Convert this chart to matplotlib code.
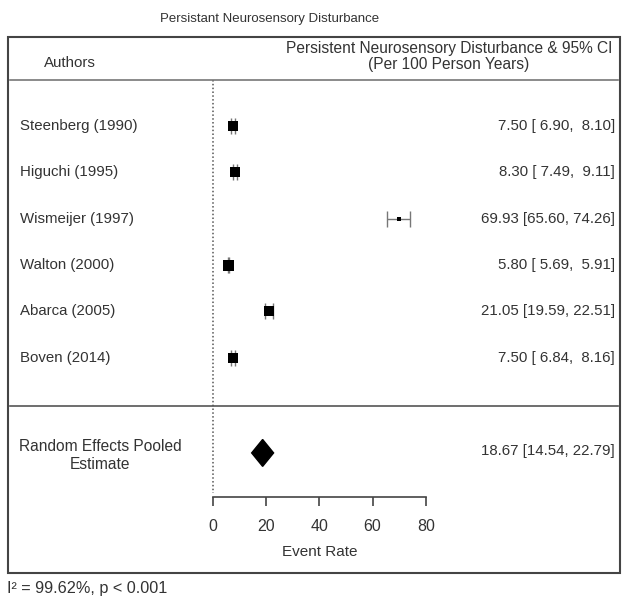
import numpy as np
import matplotlib
matplotlib.use("Agg")
import matplotlib.pyplot as plt
from matplotlib.patches import Polygon, Rectangle
from matplotlib.lines import Line2D
import matplotlib.transforms as mtransforms

plt.rcParams['font.family'] = ['Liberation Sans', 'DejaVu Sans']

authors = ["Steenberg (1990)", "Higuchi (1995)", "Wismeijer (1997)",
           "Walton (2000)", "Abarca (2005)", "Boven (2014)"]
rate = [7.50, 8.30, 69.93, 5.80, 21.05, 7.50]
lower = [6.90, 7.49, 65.60, 5.69, 19.59, 6.84]
upper = [8.10, 9.11, 74.26, 5.91, 22.51, 8.16]
weight = [10.5, 10.5, 4.5, 11, 9.5, 10.5]   # relative box size
pooled = 18.67
pooled_lo = 14.54
pooled_hi = 22.79
i2_text = "I² = 99.62%, p < 0.001"

W, H = 623, 598
fig = plt.figure(figsize=(W / 100, H / 100), dpi=100)

def fx(p):
    return p / W

def fy(p):
    return 1 - p / H

txtc = "#333333"
fs = 10.8

# plotting axes: x 0..80 from px 213 to 425.7, top px 80, axis at px 497
ax = fig.add_axes([fx(213), fy(497), (425.7 - 213) / W, (497 - 80) / H])
ax.set_xlim(0, 80)
ax.set_ylim(8, -0.99)
for s in ["left", "right", "top"]:
    ax.spines[s].set_visible(False)
ax.spines["bottom"].set_color("#444444")
ax.spines["bottom"].set_linewidth(1.2)
ax.set_yticks([])
ax.set_xticks([0, 20, 40, 60, 80])
ax.tick_params(axis="x", length=6.5, width=1.2, color="#444444",
               labelsize=11.5, labelcolor=txtc, pad=9)
ax.set_xlabel("Event Rate", fontsize=11, color=txtc, labelpad=8)
ax.patch.set_alpha(0)

ax.plot([0, 0], [-0.99, 7.91], ls=(0, (1, 1.5)), color="#555555", lw=1.1, clip_on=False)

y = np.arange(len(authors))
for i in range(len(authors)):
    ax.errorbar(rate[i], y[i], xerr=[[rate[i] - lower[i]], [upper[i] - rate[i]]],
                fmt="none", ecolor="#777777", elinewidth=1, capsize=5.5, capthick=1)
    ax.plot(rate[i], y[i], marker="s", color="black", ms=weight[i] * 0.72, mew=0)

py = 7.05
dh = 0.29
ax.add_patch(Polygon([[pooled_lo, py], [pooled, py - dh], [pooled_hi, py], [pooled, py + dh]],
                     closed=True, color="black", clip_on=False))

tr = mtransforms.blended_transform_factory(fig.transFigure, ax.transData)
for i in range(len(authors)):
    ax.text(fx(20), y[i], authors[i], transform=tr, ha="left", va="center",
            fontsize=fs, color=txtc)
    s = "%.2f [%5.2f, %5.2f]" % (rate[i], lower[i], upper[i])
    ax.text(fx(615), y[i], s, transform=tr, ha="right", va="center",
            fontsize=fs, color=txtc)

ax.text(fx(100), py + 0.05, "Random Effects Pooled\nEstimate", transform=tr, ha="center",
        va="center", fontsize=11.2, color=txtc, linespacing=1.25)
ax.text(fx(615), py - 0.05, "%.2f [%.2f, %.2f]" % (pooled, pooled_lo, pooled_hi),
        transform=tr, ha="right", va="center", fontsize=fs, color=txtc)

# frame, header, dividers
fig.add_artist(Rectangle((fx(8), fy(572.7)), (620 - 8) / W, (572.7 - 36.7) / H,
                         fill=False, ec="#444444", lw=1.5, transform=fig.transFigure))
fig.add_artist(Line2D([fx(10), fx(618)], [fy(79.5), fy(79.5)], color="#777777", lw=1.2))
fig.add_artist(Line2D([fx(10), fx(618)], [fy(405.5), fy(405.5)], color="#555555", lw=1.2))

fig.text(fx(270), fy(19), "Persistant Neurosensory Disturbance", ha="center",
         va="center", fontsize=9.5, color=txtc)
fig.text(fx(69.5), fy(63), "Authors", ha="center", va="center", fontsize=fs, color=txtc)
fig.text(fx(449), fy(48), "Persistent Neurosensory Disturbance & 95% CI",
         ha="center", va="center", fontsize=11.2, color=txtc)
fig.text(fx(449), fy(64), "(Per 100 Person Years)", ha="center", va="center",
         fontsize=11.2, color=txtc)
fig.text(fx(7), fy(589), i2_text, ha="left", va="center", fontsize=11.7, color=txtc)

fig.savefig("out.png", dpi=100)
